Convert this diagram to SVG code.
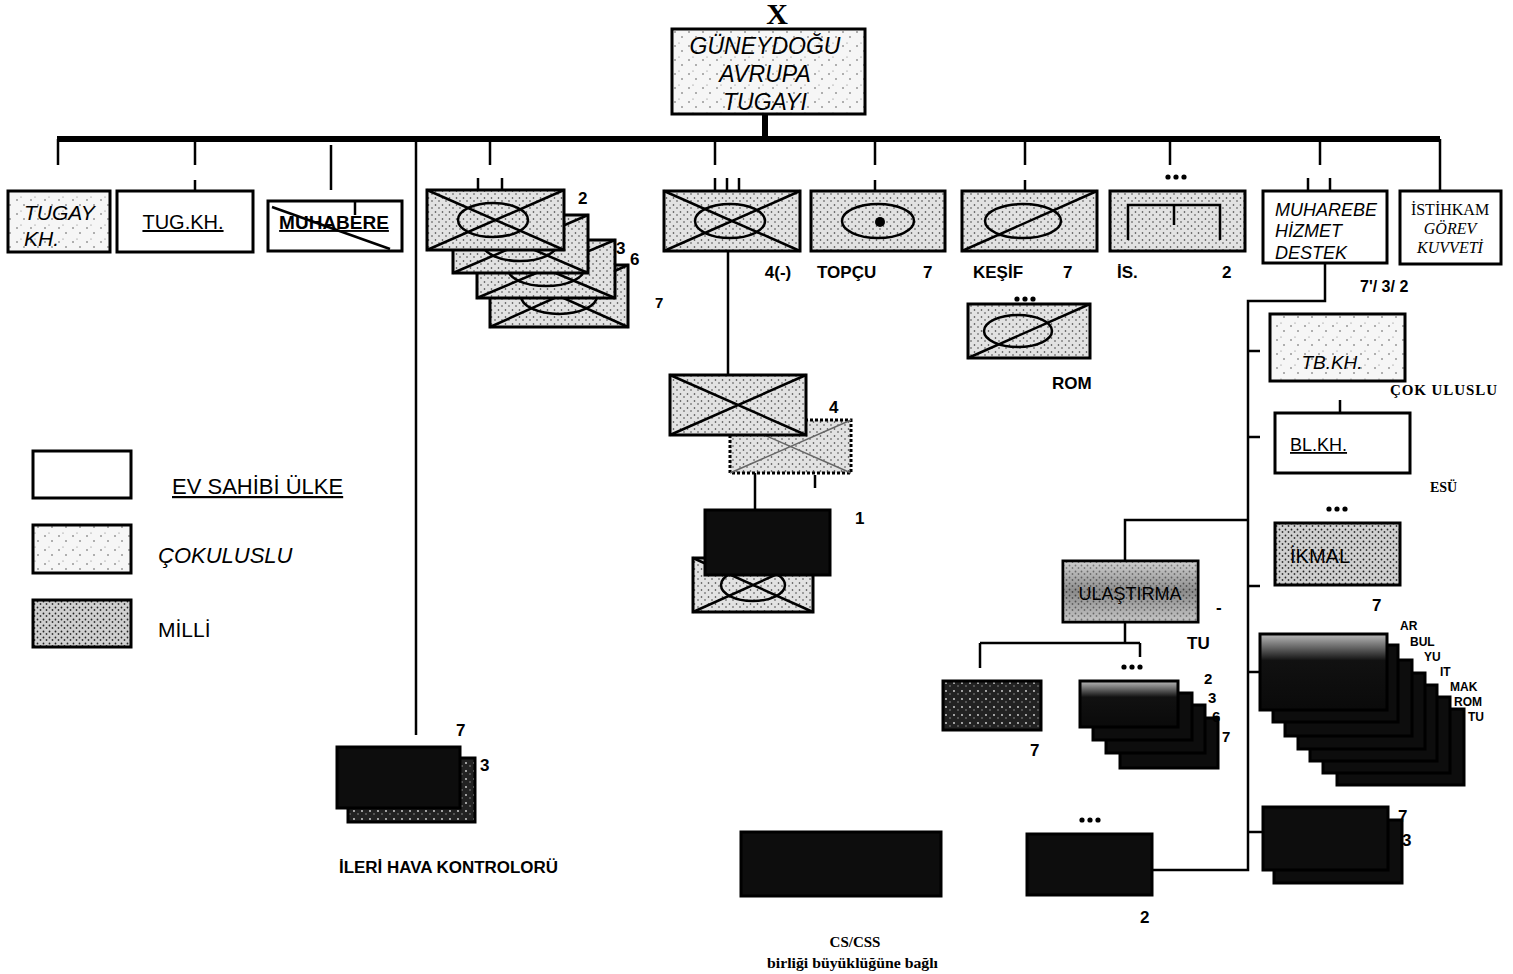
<svg xmlns="http://www.w3.org/2000/svg" width="1513" height="974" viewBox="0 0 1513 974">
<defs>
<pattern id="pLight" width="14" height="14" patternUnits="userSpaceOnUse">
<rect width="14" height="14" fill="#f6f6f6"/>
<circle cx="3" cy="4" r="0.8" fill="#555"/><circle cx="10" cy="9" r="0.8" fill="#555"/><circle cx="7" cy="1" r="0.6" fill="#777"/>
</pattern>
<pattern id="pMed" width="7" height="7" patternUnits="userSpaceOnUse">
<rect width="7" height="7" fill="#e2e2e2"/>
<circle cx="1.5" cy="2" r="0.8" fill="#333"/><circle cx="5" cy="5" r="0.8" fill="#444"/>
</pattern>
<pattern id="pDense" width="6" height="6" patternUnits="userSpaceOnUse">
<rect width="6" height="6" fill="#cfcfcf"/>
<circle cx="1.5" cy="1.5" r="0.9" fill="#222"/><circle cx="4.5" cy="4" r="0.9" fill="#333"/>
</pattern>
<pattern id="pDark" width="8" height="8" patternUnits="userSpaceOnUse">
<rect width="8" height="8" fill="#222"/>
<circle cx="2" cy="3" r="0.9" fill="#ddd"/><circle cx="6" cy="6" r="0.7" fill="#aaa"/>
</pattern>
<linearGradient id="gTop" x1="0" y1="0" x2="0" y2="1">
<stop offset="0" stop-color="#bbb"/><stop offset="0.35" stop-color="#111"/><stop offset="1" stop-color="#0a0a0a"/>
</linearGradient>
<linearGradient id="gUl" x1="0" y1="0" x2="0" y2="1">
<stop offset="0" stop-color="#d0d0d0"/><stop offset="0.5" stop-color="#555"/><stop offset="1" stop-color="#bdbdbd"/>
</linearGradient>
<g id="dots"><circle cx="-8" cy="0" r="2.6"/><circle cx="0" cy="0" r="2.6"/><circle cx="8" cy="0" r="2.6"/></g>
</defs>
<style>
.b{stroke:#000;stroke-width:3;}
.w{fill:#fff;}
.l{fill:url(#pLight);}
.m{fill:url(#pMed);}
.d{fill:url(#pDense);}
.k{fill:#0d0d0d;}
.kg{fill:url(#gTop);}
.s{stroke:#000;stroke-width:2.5;fill:none;}
.c{stroke:#000;stroke-width:2.5;fill:none;}
.t{font-family:"Liberation Sans",Arial,sans-serif;fill:#000;}
.it{font-style:italic;}
.bd{font-weight:bold;}
.sf{font-family:"Liberation Serif","Times New Roman",serif;fill:#000;}
</style>
<rect width="1513" height="974" fill="#fff"/>

<g id="connectors">
<line x1="57" y1="139" x2="1440" y2="139" stroke="#000" stroke-width="6"/>
<line x1="765" y1="114" x2="765" y2="139" stroke="#000" stroke-width="6"/>
<path class="c" d="M58 139V165M195 139V165M195 180V191M331 145V190M416 139V735M490 139V165M715 139V165M875 139V165M875 180V191M1025 139V165M1025 180V191M1170 139V165M1320 139V165M1440 139V191"/>
<path class="c" d="M478 178V190M502 178V190M715 178V191M727 178V191M739 178V191M1308 178V191M1330 178V191"/>
<path class="c" d="M728 251V375M755 473V510M815 475V488"/>
<path class="c" d="M1325 263V301H1248V870H1152M1248 351H1260M1248 437H1260M1248 520H1125V560M1248 586H1260M1248 672H1262M1248 832H1264M1340 400V413"/>
<path class="c" d="M1125 622V643M980 643H1140M980 643V668M1140 643V657"/>
</g>

<g id="title">
<text class="sf bd" x="777" y="24" font-size="30" text-anchor="middle">X</text>
<rect class="b l" x="672" y="29" width="193" height="85"/>
<text class="t it" x="765" y="54" font-size="23" text-anchor="middle">GÜNEYDOĞU</text>
<text class="t it" x="765" y="82" font-size="23" text-anchor="middle">AVRUPA</text>
<text class="t it" x="765" y="110" font-size="23" text-anchor="middle">TUGAYI</text>
</g>

<g id="tugay-kh">
<rect class="b l" x="8" y="191" width="102" height="61"/>
<text class="t it" x="24" y="220" font-size="21">TUGAY</text>
<text class="t it" x="24" y="246" font-size="21">KH.</text>
</g>

<g id="tug-kh">
<rect class="b w" x="117" y="191" width="136" height="61"/>
<text class="t" x="183" y="229" font-size="20" text-anchor="middle" text-decoration="underline">TUG.KH.</text>
</g>

<g id="muhabere">
<rect class="b w" x="268" y="201" width="134" height="50"/>
<text class="t bd" x="334" y="229" font-size="19" text-anchor="middle" text-decoration="underline">MUHABERE</text>
<line class="s" x1="272" y1="207" x2="390" y2="249"/>
<line class="s" x1="355" y1="201" x2="355" y2="215"/>
</g>

<g id="piyade-stack">
<rect class="b m" x="490" y="265" width="138" height="62"/>
<path class="s" d="M490 265L628 327M490 327L628 265"/><ellipse class="s" cx="559" cy="296" rx="38" ry="18"/>
<rect class="b m" x="477" y="240" width="138" height="58"/>
<path class="s" d="M477 240L615 298M477 298L615 240"/><ellipse class="s" cx="546" cy="269" rx="38" ry="17"/>
<rect class="b m" x="453" y="215" width="135" height="58"/>
<path class="s" d="M453 215L588 273M453 273L588 215"/><ellipse class="s" cx="520" cy="244" rx="37" ry="17"/>
<rect class="b m" x="427" y="190" width="137" height="60"/>
<path class="s" d="M427 190L564 250M427 250L564 190"/><ellipse class="s" cx="493" cy="220" rx="35" ry="17"/>
<text class="t bd" x="578" y="204" font-size="17">2</text>
<text class="t bd" x="616" y="254" font-size="17">3</text>
<text class="t bd" x="630" y="265" font-size="17">6</text>
<text class="t bd" x="655" y="308" font-size="15">7</text>
</g>

<g id="mek-piyade">
<rect class="b m" x="664" y="191" width="136" height="60"/>
<path class="s" d="M664 191L800 251M664 251L800 191"/><ellipse class="s" cx="730" cy="221" rx="35" ry="17"/>
<text class="t bd" x="778" y="278" font-size="17" text-anchor="middle">4(-)</text>
</g>

<g id="piyade-4">
<rect class="b m" x="730" y="420" width="121" height="53" stroke-dasharray="3 2"/>
<path d="M730 420L851 473M730 473L851 420" stroke="#666" stroke-width="1.5"/>
<rect class="b m" x="670" y="375" width="136" height="60"/>
<path class="s" d="M670 375L806 435M670 435L806 375"/>
<text class="t bd" x="829" y="413" font-size="17">4</text>
</g>

<g id="piyade-1">
<rect class="b m" x="693" y="558" width="120" height="54"/>
<path class="s" d="M693 558L813 612M693 612L813 558"/><ellipse class="s" cx="753" cy="585" rx="32" ry="16"/>
<rect class="b k" x="705" y="510" width="125" height="65"/>
<text class="t bd" x="855" y="524" font-size="17">1</text>
</g>

<g id="topcu">
<rect class="b m" x="811" y="191" width="134" height="60"/>
<ellipse class="s" cx="878" cy="221" rx="36" ry="17"/><circle cx="880" cy="222" r="5" fill="#000"/>
<text class="t bd" x="817" y="278" font-size="17">TOPÇU</text>
<text class="t bd" x="923" y="278" font-size="17">7</text>
</g>

<g id="kesif">
<rect class="b m" x="962" y="191" width="135" height="60"/>
<ellipse class="s" cx="1023" cy="221" rx="38" ry="17"/><path class="s" d="M962 251L1097 191"/>
<text class="t bd" x="973" y="278" font-size="17">KEŞİF</text>
<text class="t bd" x="1063" y="278" font-size="17">7</text>
</g>

<g id="kesif-rom">
<use href="#dots" x="1025" y="299"/>
<rect class="b m" x="968" y="304" width="122" height="54"/>
<ellipse class="s" cx="1018" cy="331" rx="34" ry="16"/><path class="s" d="M968 358L1090 304"/>
<text class="t bd" x="1052" y="389" font-size="17">ROM</text>
</g>

<g id="istihkam-is">
<use href="#dots" x="1176" y="177"/>
<rect class="b m" x="1110" y="191" width="135" height="60"/>
<path class="s" d="M1128 240V205H1220V240M1174 205V225"/>
<text class="t bd" x="1117" y="278" font-size="17">İS.</text>
<text class="t bd" x="1222" y="278" font-size="17">2</text>
</g>

<g id="mhd">
<rect class="b w" x="1263" y="191" width="124" height="72"/>
<text class="t it" x="1275" y="216" font-size="18">MUHAREBE</text>
<text class="t it" x="1275" y="237" font-size="18">HİZMET</text>
<text class="t it" x="1275" y="259" font-size="18">DESTEK</text>
<text class="t bd" x="1360" y="292" font-size="16">7'/ 3/ 2</text>
</g>

<g id="istihkam-gorev">
<rect class="b w" x="1400" y="191" width="101" height="73"/>
<text class="sf" x="1450" y="215" font-size="16" text-anchor="middle">İSTİHKAM</text>
<text class="sf it" x="1450" y="234" font-size="16" text-anchor="middle">GÖREV</text>
<text class="sf it" x="1450" y="253" font-size="16" text-anchor="middle">KUVVETİ</text>
</g>

<g id="tb-kh">
<rect class="b l" x="1270" y="314" width="135" height="67"/>
<text class="t it" x="1332" y="369" font-size="19" text-anchor="middle">TB.KH.</text>
<text class="sf bd" x="1390" y="395" font-size="15" textLength="107">ÇOK ULUSLU</text>
</g>

<g id="bl-kh">
<rect class="b w" x="1275" y="413" width="135" height="60"/>
<text class="t" x="1290" y="451" font-size="18" text-decoration="underline">BL.KH.</text>
<text class="sf bd" x="1430" y="492" font-size="14">ESÜ</text>
</g>

<g id="ikmal">
<use href="#dots" x="1337" y="509"/>
<rect class="b d" x="1275" y="523" width="125" height="62"/>
<text class="t" x="1320" y="563" font-size="20" text-anchor="middle">İKMAL</text>
<text class="t bd" x="1372" y="611" font-size="17">7</text>
</g>

<g id="milli-stack">
<rect class="b k" x="1337" y="709" width="127" height="76"/>
<rect class="b k" x="1323" y="697" width="127" height="76"/>
<rect class="b k" x="1310" y="685" width="127" height="76"/>
<rect class="b k" x="1298" y="673" width="127" height="76"/>
<rect class="b k" x="1285" y="660" width="127" height="76"/>
<rect class="b k" x="1273" y="645" width="125" height="77"/>
<rect class="b kg" x="1260" y="634" width="127" height="76"/>
<text class="t bd" x="1400" y="630" font-size="12">AR</text>
<text class="t bd" x="1410" y="646" font-size="12">BUL</text>
<text class="t bd" x="1424" y="661" font-size="12">YU</text>
<text class="t bd" x="1440" y="676" font-size="12">IT</text>
<text class="t bd" x="1450" y="691" font-size="12">MAK</text>
<text class="t bd" x="1454" y="706" font-size="12">ROM</text>
<text class="t bd" x="1468" y="721" font-size="12">TU</text>
</g>

<g id="milli-bottom">
<rect class="b k" x="1274" y="820" width="128" height="63"/>
<rect class="b k" x="1263" y="807" width="125" height="63"/>
<text class="t bd" x="1398" y="822" font-size="17">7</text>
<text class="t bd" x="1402" y="846" font-size="17">3</text>
</g>

<g id="bottom-2">
<use href="#dots" x="1090" y="820"/>
<rect class="b k" x="1027" y="834" width="125" height="61"/>
<text class="t bd" x="1140" y="923" font-size="17">2</text>
</g>

<g id="ulastirma">
<rect class="b" x="1063" y="561" width="135" height="61" fill="url(#gUl)"/>
<rect x="1064" y="562" width="133" height="59" fill="url(#pDense)" opacity="0.45"/>
<text class="t" x="1130" y="600" font-size="18" text-anchor="middle" fill="#111">ULAŞTIRMA</text>
<text class="t bd" x="1216" y="613" font-size="17">-</text>
<text class="t bd" x="1187" y="649" font-size="17">TU</text>
</g>

<g id="ulastirma-kesif">
<rect class="b" x="943" y="681" width="98" height="49" fill="url(#pDark)"/>
<text class="t bd" x="1030" y="756" font-size="17">7</text>
</g>

<g id="ulastirma-stack">
<use href="#dots" x="1132" y="667"/>
<rect class="b k" x="1120" y="718" width="98" height="50"/>
<rect class="b k" x="1106" y="705" width="99" height="48"/>
<rect class="b k" x="1093" y="693" width="99" height="47"/>
<rect class="b kg" x="1080" y="681" width="98" height="46"/>
<text class="t bd" x="1204" y="684" font-size="15">2</text>
<text class="t bd" x="1208" y="703" font-size="15">3</text>
<text class="t bd" x="1212" y="722" font-size="15">6</text>
<text class="t bd" x="1222" y="742" font-size="15">7</text>
</g>

<g id="ileri-hava">
<rect class="b" x="348" y="758" width="127" height="64" fill="url(#pDark)"/>
<rect class="b k" x="337" y="747" width="123" height="61"/>
<text class="t bd" x="456" y="736" font-size="17">7</text>
<text class="t bd" x="480" y="771" font-size="17">3</text>
<text class="t bd" x="339" y="873" font-size="16" textLength="219" lengthAdjust="spacingAndGlyphs">İLERİ HAVA KONTROLORÜ</text>
</g>

<g id="cs-css">
<rect class="b k" x="741" y="832" width="200" height="64"/>
<text class="sf bd" x="855" y="947" font-size="15" text-anchor="middle">CS/CSS</text>
<text class="sf bd" x="767" y="968" font-size="14" textLength="171" lengthAdjust="spacingAndGlyphs">birliği büyüklüğüne bağlı</text>
</g>

<g id="legend">
<rect class="b w" x="33" y="451" width="98" height="47"/>
<text class="t" x="172" y="494" font-size="22" text-decoration="underline">EV SAHİBİ ÜLKE</text>
<rect class="b l" x="33" y="525" width="98" height="48"/>
<text class="t it" x="158" y="563" font-size="22">ÇOKULUSLU</text>
<rect class="b d" x="33" y="600" width="98" height="47"/>
<text class="t" x="158" y="637" font-size="21">MİLLİ</text>
</g>
</svg>
